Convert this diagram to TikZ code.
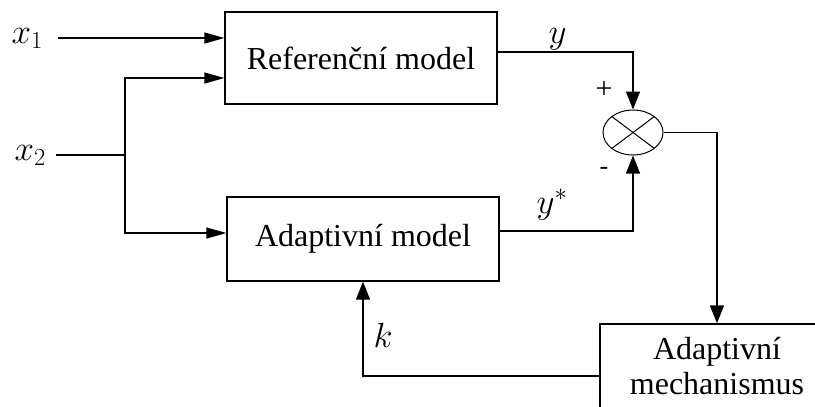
\RequirePackage{fix-cm}
\documentclass[tikz,border=0pt]{standalone}
\usepackage{fontspec}
\setmainfont{Liberation Serif}
\usetikzlibrary{arrows.meta,shapes.geometric}
\begin{document}
\begin{tikzpicture}[x=1pt,y=-1pt,line width=1.3pt,
  blk/.style={draw,inner sep=0pt,font=\fontsize{32}{35}\selectfont},
  lbl/.style={inner sep=0pt,anchor=base west,font=\fontsize{35}{40}\selectfont},
  harr/.style={-{Triangle[length=20pt,width=11pt]}},
  varr/.style={-{Triangle[length=18pt,width=14pt]}}]
\path[use as bounding box] (0,0) rectangle (815,407);
\clip (0,0) rectangle (815,407);

\node[blk,minimum width=272pt,minimum height=92pt] (ref) at (361,58) {Referenční model};
\node[blk,minimum width=272pt,minimum height=84pt] (ad) at (363,239) {Adaptivní model};
\node[blk,minimum width=234pt,minimum height=84pt,align=center] (mech) at (717,366) {Adaptivní\\mechanismus};
\node[draw,ellipse,line width=1pt,minimum width=60pt,minimum height=45pt,inner sep=0pt] (s) at (633,132.5) {};
\draw[line width=1pt] ([shift={(-21.2,-15.9)}]s.center) -- ([shift={(21.2,15.9)}]s.center);
\draw[line width=1pt] ([shift={(-21.2,15.9)}]s.center) -- ([shift={(21.2,-15.9)}]s.center);

\coordinate (x1s) at (58,38);
\coordinate (x2s) at (56,155);
\coordinate (br) at (125,155);

\node[lbl] (x1) at (11,43) {$x_{1}$};
\node[lbl] (x2) at (14,160) {$x_{2}$};
\node[lbl] (ly) at (548,43) {$y$};
\node[lbl] (lys) at (536,213) {$y^*$};
\node[lbl] (lk) at (373,347) {$k$};
\node[inner sep=0pt,font=\fontsize{30}{30}\selectfont] (plus) at (604,90) {+};
\node[inner sep=0pt,font=\fontsize{26}{26}\selectfont] (minus) at (604,171) {-};

\draw[harr] (x1s) -- ([yshift=20pt]ref.west);
\draw (x2s) -- (br);
\draw[harr] (br) |- ([yshift=-20pt]ref.west);
\draw[harr] (br) |- ([yshift=6pt]ad.west);
\draw[varr] ([yshift=6pt]ref.east) -| (s.north);
\draw[varr] ([yshift=8pt]ad.east) -| (s.south);
\draw[varr] (s.east) -| (mech.north);
\draw[varr] ([yshift=-10pt]mech.west) -| (ad.south);
\end{tikzpicture}
\end{document}
